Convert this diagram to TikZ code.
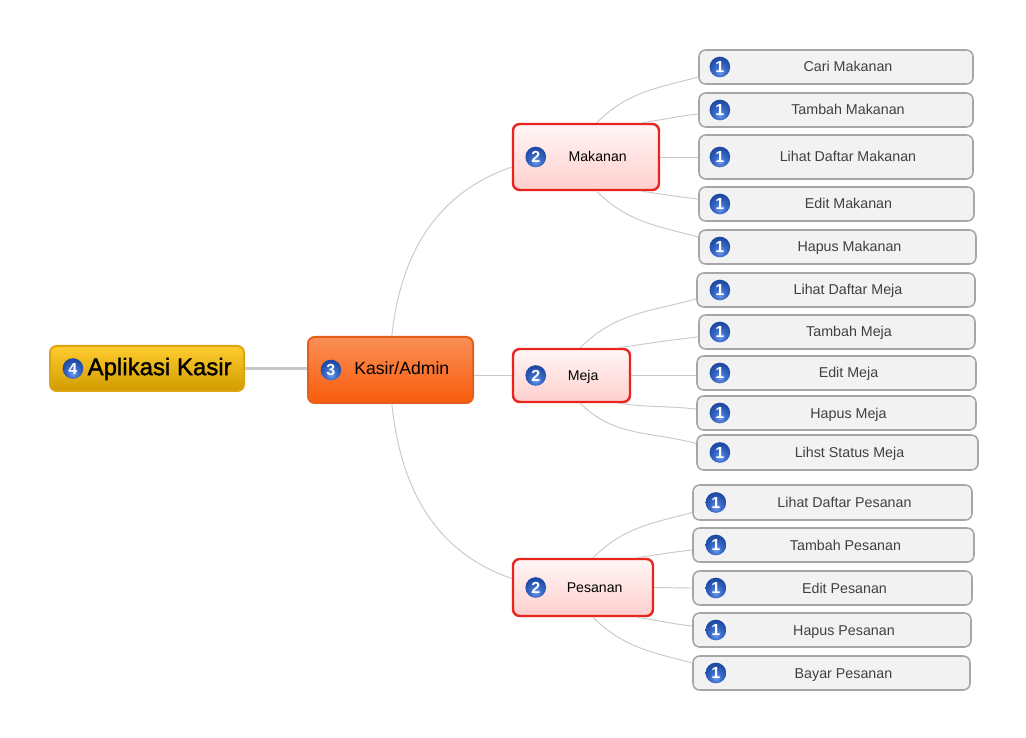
\documentclass[tikz,border=0pt]{standalone}
\usepackage{fontspec}
\setmainfont{Liberation Sans}
\usetikzlibrary{positioning}
\definecolor{rootedge}{HTML}{DDA50F}
\definecolor{roottop}{HTML}{FFCC30}
\definecolor{rootbot}{HTML}{D09C00}
\definecolor{adminedge}{HTML}{E2601A}
\definecolor{admintop}{HTML}{FA8F56}
\definecolor{adminbot}{HTML}{F85C0C}
\definecolor{groupedge}{HTML}{E8241E}
\definecolor{grouptop}{HTML}{FFF6F6}
\definecolor{groupbot}{HTML}{FFCFCD}
\definecolor{leafedge}{HTML}{A6A6A6}
\definecolor{leaffill}{HTML}{F2F2F2}
\definecolor{linkgrey}{HTML}{C8C8C8}
\definecolor{ballhi}{HTML}{6F9FEA}
\definecolor{ballmid}{HTML}{3A6AC8}
\definecolor{ballrim}{HTML}{1E4AA4}
\pgfdeclareradialshading{iconball}{\pgfpoint{0bp}{-12bp}}{%
	color(0bp)=(ballhi);
	color(14bp)=(ballmid);
	color(30bp)=(ballrim);
	color(100bp)=(ballrim)}

\begin{document}
\begin{tikzpicture}[x=0.75pt,y=-0.75pt,
			every node/.style={
				align=center,
				inner sep=0pt
			},
			Root/.style={
				rectangle,rounded corners=5pt,draw=rootedge,line width=1.5pt,
				top color=roottop,bottom color=rootbot,
				text height=13pt,text depth=3pt,
				font=\fontsize{18}{20}\selectfont\addfontfeature{FakeBold=1.5},
				execute at begin node=\hspace*{19pt}
			},
			Admin/.style={
				rectangle,rounded corners=5pt,draw=adminedge,line width=1.5pt,
				top color=admintop,bottom color=adminbot,
				text height=9pt,text depth=1.5pt,
				font=\fontsize{13.2}{14}\selectfont,
				execute at begin node=\hspace*{17pt}
			},
			Group/.style={
				rectangle,rounded corners=5pt,draw=groupedge,line width=1.8pt,
				top color=grouptop,bottom color=groupbot,
				text height=8pt,text depth=0.5pt,
				font=\fontsize{10.6}{12}\selectfont,
				execute at begin node=\hspace*{17.5pt}
			},
			Leaf/.style={
				rectangle,rounded corners=5pt,draw=leafedge,line width=1.15pt,
				fill=leaffill,text=black!75,
				text height=8pt,text depth=0.5pt,
				font=\fontsize{10.7}{12}\selectfont,
				execute at begin node=\hspace*{18pt}
			},
			Icon/.style={
				circle,minimum size=15.5pt,shading=iconball,text=white,
				text height=8.5pt,text depth=0pt,
				font=\fontsize{12}{12}\selectfont\bfseries
			},
			Link/.style={draw=linkgrey,line width=0.7pt},
			every edge/.style={Link}
		]
		\useasboundingbox (0,0) rectangle (1026,738);
		% main boxes
		\node[Root,minimum width=145.5pt,minimum height=33.75pt](Root) at (147,368.5){Aplikasi Kasir};
		\node[Admin,minimum width=123.75pt,minimum height=49.5pt](Admin) at (390.5,370){Kasir/Admin};
		\node[Group,minimum width=109.5pt,minimum height=49.5pt](Makanan) at (586,157){Makanan};
		\node[Group,minimum width=87.75pt,minimum height=39.75pt](Meja) at (571.5,375.5){Meja};
		\node[Group,minimum width=105pt,minimum height=42.75pt](Pesanan) at (583,587.5){Pesanan};
		% leaves of Makanan
		\node[Leaf,minimum width=205.5pt,minimum height=25.5pt](M1) at (836,67){Cari Makanan};
		\node[Leaf,minimum width=205.5pt,minimum height=25.5pt](M2) at (836,110){Tambah Makanan};
		\node[Leaf,minimum width=205.5pt,minimum height=33pt](M3) at (836,157){Lihat Daftar Makanan};
		\node[Leaf,minimum width=206.25pt,minimum height=25.5pt](M4) at (836.5,204){Edit Makanan};
		\node[Leaf,minimum width=207.75pt,minimum height=25.5pt](M5) at (837.5,247){Hapus Makanan};
		% leaves of Meja
		\node[Leaf,minimum width=208.5pt,minimum height=25.5pt](J1) at (836,290){Lihat Daftar Meja};
		\node[Leaf,minimum width=207pt,minimum height=25.5pt](J2) at (837,332){Tambah Meja};
		\node[Leaf,minimum width=209.25pt,minimum height=25.5pt](J3) at (836.5,373){Edit Meja};
		\node[Leaf,minimum width=209.25pt,minimum height=25.5pt](J4) at (836.5,413){Hapus Meja};
		\node[Leaf,minimum width=210.75pt,minimum height=26.25pt](J5) at (837.5,452.5){Lihst Status Meja};
		% leaves of Pesanan
		\node[Leaf,minimum width=209.25pt,minimum height=26.25pt](P1) at (832.5,502.5){Lihat Daftar Pesanan};
		\node[Leaf,minimum width=210.75pt,minimum height=25.5pt](P2) at (833.5,545){Tambah Pesanan};
		\node[Leaf,minimum width=209.25pt,minimum height=25.5pt](P3) at (832.5,588){Edit Pesanan};
		\node[Leaf,minimum width=208.5pt,minimum height=25.5pt](P4) at (832,630){Hapus Pesanan};
		\node[Leaf,minimum width=207.75pt,minimum height=25.5pt](P5) at (831.5,673){Bayar Pesanan};
		% icons
		\node[Icon,right=10pt of Root.west](IRoot){4};
		\node[Icon,right=10pt of Admin.west](IAdmin){3};
		\node[Icon,right=10pt of Makanan.west](IMakanan){2};
		\node[Icon,right=10pt of Meja.west](IMeja){2};
		\node[Icon,right=10pt of Pesanan.west](IPesanan){2};
		\node[Icon,right=8.3pt of M1.west](IM1){1};
		\node[Icon,right=8.3pt of M2.west](IM2){1};
		\node[Icon,right=8.3pt of M3.west](IM3){1};
		\node[Icon,right=8.3pt of M4.west](IM4){1};
		\node[Icon,right=8.3pt of M5.west](IM5){1};
		\node[Icon,right=9.8pt of J1.west](IJ1){1};
		\node[Icon,right=8.3pt of J2.west](IJ2){1};
		\node[Icon,right=9.8pt of J3.west](IJ3){1};
		\node[Icon,right=9.8pt of J4.west](IJ4){1};
		\node[Icon,right=9.8pt of J5.west](IJ5){1};
		\node[Icon,right=9.8pt of P1.west](IP1){1};
		\node[Icon,right=9.8pt of P2.west](IP2){1};
		\node[Icon,right=9.8pt of P3.west](IP3){1};
		\node[Icon,right=9.8pt of P4.west](IP4){1};
		\node[Icon,right=9.8pt of P5.west](IP5){1};
		% connectors
		\draw[Link,line width=1.8pt] (Root.east) -- (Root.east -| Admin.west);
		\path
		([xshift=1pt]Admin.north)edge [out=84,in=199] ([yshift=-7.5pt]Makanan.west)
		([xshift=1pt]Admin.south)edge [out=-84,in=161] ([yshift=6.75pt]Pesanan.west)
		(Admin.east |- Meja.west)edge [] (Meja.west)
		([xshift=8pt]Makanan.north)edge [out=45,in=195] ([yshift=-7.5pt]M1.west)
		([xshift=-14pt]Makanan.north east)edge [out=8,in=186] ([yshift=-3pt]M2.west)
		(Makanan.east)edge [] (M3.west)
		([xshift=-14pt]Makanan.south east)edge [out=-8,in=174] ([yshift=3.75pt]M4.west)
		([xshift=8pt]Makanan.south)edge [out=-45,in=165] ([yshift=7.5pt]M5.west)
		([xshift=6.5pt]Meja.north)edge [out=45,in=195] ([yshift=-6.75pt]J1.west)
		([xshift=-10pt]Meja.north east)edge [out=8,in=186] ([yshift=-3.75pt]J2.west)
		(Meja.east)edge [] (Meja.east -| J3.west)
		([xshift=-10pt]Meja.south east)edge [out=-8,in=174] ([yshift=3pt]J4.west)
		([xshift=6.5pt]Meja.south)edge [out=-45,in=165] ([yshift=6.75pt]J5.west)
		([xshift=7.5pt]Pesanan.north)edge [out=45,in=195] ([yshift=-7.5pt]P1.west)
		([xshift=-13.5pt]Pesanan.north east)edge [out=8,in=186] ([yshift=-3.75pt]P2.west)
		(Pesanan.east)edge [] (P3.west)
		([xshift=-13.5pt]Pesanan.south east)edge [out=-8,in=174] ([yshift=3pt]P4.west)
		([xshift=7.5pt]Pesanan.south)edge [out=-45,in=165] ([yshift=7.5pt]P5.west)
		;
	\end{tikzpicture}
\end{document}
